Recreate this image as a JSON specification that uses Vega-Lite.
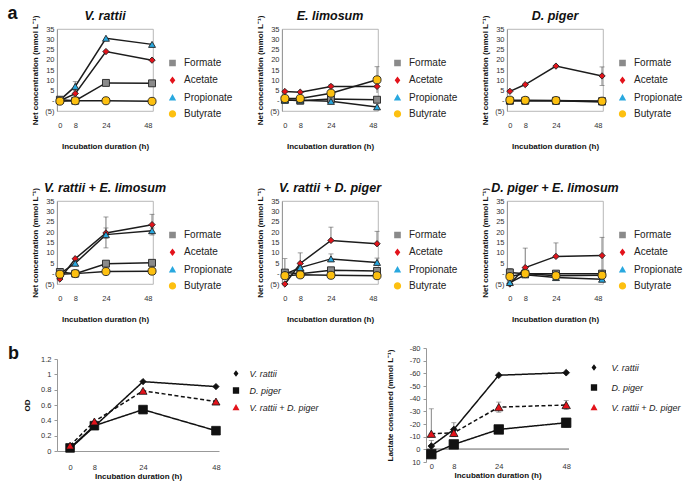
{
"$schema": "https://vega.github.io/schema/vega-lite/v6.json",
"padding": {"left": 7, "top": 5, "right": 0, "bottom": 0},
"config": {
  "font": "Liberation Sans",
  "view": {"stroke": "#a6a6a6", "strokeWidth": 0.8},
  "axis": {"labelFontSize": 7.5, "labelColor": "#333", "titleFontSize": 8, "titleFontWeight": "bold", "titleColor": "#111", "grid": false, "domainColor": "#999", "tickColor": "#999"},
  "title": {"fontSize": 12.5, "fontStyle": "italic", "fontWeight": "bold", "color": "#111", "offset": -7},
  "legend": {"padding": 0, "labelColor": "#222"}
},
"datasets": {
  "a": [
    {"p":"VR","c":"Formate","t":0,"v":0.5},{"p":"VR","c":"Formate","t":8,"v":0},{"p":"VR","c":"Formate","t":24,"v":8.7},{"p":"VR","c":"Formate","t":48,"v":8.5},
    {"p":"VR","c":"Acetate","t":0,"v":0},{"p":"VR","c":"Acetate","t":8,"v":3.5,"lo":3.5,"hi":5},{"p":"VR","c":"Acetate","t":24,"v":24},{"p":"VR","c":"Acetate","t":48,"v":19.8},
    {"p":"VR","c":"Propionate","t":0,"v":0.3},{"p":"VR","c":"Propionate","t":8,"v":7,"lo":5,"hi":9.3},{"p":"VR","c":"Propionate","t":24,"v":30.5},{"p":"VR","c":"Propionate","t":48,"v":27.5},
    {"p":"VR","c":"Butyrate","t":0,"v":-0.2},{"p":"VR","c":"Butyrate","t":8,"v":0},{"p":"VR","c":"Butyrate","t":24,"v":0},{"p":"VR","c":"Butyrate","t":48,"v":-0.3},

    {"p":"EL","c":"Formate","t":0,"v":0.5},{"p":"EL","c":"Formate","t":8,"v":0},{"p":"EL","c":"Formate","t":24,"v":0.8},{"p":"EL","c":"Formate","t":48,"v":0.5},
    {"p":"EL","c":"Acetate","t":0,"v":4.5},{"p":"EL","c":"Acetate","t":8,"v":4.2},{"p":"EL","c":"Acetate","t":24,"v":7,"lo":6,"hi":8},{"p":"EL","c":"Acetate","t":48,"v":7},
    {"p":"EL","c":"Propionate","t":0,"v":0.3},{"p":"EL","c":"Propionate","t":8,"v":0.3},{"p":"EL","c":"Propionate","t":24,"v":-0.3},{"p":"EL","c":"Propionate","t":48,"v":-3},
    {"p":"EL","c":"Butyrate","t":0,"v":1.1},{"p":"EL","c":"Butyrate","t":8,"v":1.1},{"p":"EL","c":"Butyrate","t":24,"v":3.7},{"p":"EL","c":"Butyrate","t":48,"v":10.2,"lo":3.8,"hi":16.6},

    {"p":"DP","c":"Formate","t":0,"v":0},{"p":"DP","c":"Formate","t":8,"v":0},{"p":"DP","c":"Formate","t":24,"v":0},{"p":"DP","c":"Formate","t":48,"v":-0.2},
    {"p":"DP","c":"Acetate","t":0,"v":4.6},{"p":"DP","c":"Acetate","t":8,"v":7.9},{"p":"DP","c":"Acetate","t":24,"v":16.9},{"p":"DP","c":"Acetate","t":48,"v":12.1,"lo":7.5,"hi":16.5},
    {"p":"DP","c":"Propionate","t":0,"v":0},{"p":"DP","c":"Propionate","t":8,"v":0},{"p":"DP","c":"Propionate","t":24,"v":0},{"p":"DP","c":"Propionate","t":48,"v":-0.6},
    {"p":"DP","c":"Butyrate","t":0,"v":0.3},{"p":"DP","c":"Butyrate","t":8,"v":0.2},{"p":"DP","c":"Butyrate","t":24,"v":0.1},{"p":"DP","c":"Butyrate","t":48,"v":-0.2},

    {"p":"VREL","c":"Formate","t":0,"v":0.8},{"p":"VREL","c":"Formate","t":8,"v":0},{"p":"VREL","c":"Formate","t":24,"v":4.8},{"p":"VREL","c":"Formate","t":48,"v":5.2},
    {"p":"VREL","c":"Acetate","t":0,"v":-2.6},{"p":"VREL","c":"Acetate","t":8,"v":7.2},{"p":"VREL","c":"Acetate","t":24,"v":19.6,"lo":17,"hi":22},{"p":"VREL","c":"Acetate","t":48,"v":23.6,"lo":18.6,"hi":28.6},
    {"p":"VREL","c":"Propionate","t":0,"v":0},{"p":"VREL","c":"Propionate","t":8,"v":5},{"p":"VREL","c":"Propionate","t":24,"v":18.8,"lo":12.4,"hi":27.3},{"p":"VREL","c":"Propionate","t":48,"v":20.7,"lo":19.5,"hi":22},
    {"p":"VREL","c":"Butyrate","t":0,"v":-0.3},{"p":"VREL","c":"Butyrate","t":8,"v":0},{"p":"VREL","c":"Butyrate","t":24,"v":1},{"p":"VREL","c":"Butyrate","t":48,"v":1.2},

    {"p":"VRDP","c":"Formate","t":0,"v":0.5,"lo":0.5,"hi":7.2},{"p":"VRDP","c":"Formate","t":8,"v":0},{"p":"VRDP","c":"Formate","t":24,"v":1.6},{"p":"VRDP","c":"Formate","t":48,"v":1.3},
    {"p":"VRDP","c":"Acetate","t":0,"v":-5},{"p":"VRDP","c":"Acetate","t":8,"v":4.9,"lo":4.9,"hi":10},{"p":"VRDP","c":"Acetate","t":24,"v":16,"lo":16,"hi":22.4},{"p":"VRDP","c":"Acetate","t":48,"v":14.4,"lo":14.4,"hi":20.4},
    {"p":"VRDP","c":"Propionate","t":0,"v":-0.3},{"p":"VRDP","c":"Propionate","t":8,"v":2.9},{"p":"VRDP","c":"Propionate","t":24,"v":7.1,"lo":7.1,"hi":9.5},{"p":"VRDP","c":"Propionate","t":48,"v":5.4,"lo":5.4,"hi":7.5},
    {"p":"VRDP","c":"Butyrate","t":0,"v":-1},{"p":"VRDP","c":"Butyrate","t":8,"v":-0.6},{"p":"VRDP","c":"Butyrate","t":24,"v":-0.8},{"p":"VRDP","c":"Butyrate","t":48,"v":-1},

    {"p":"DPEL","c":"Formate","t":0,"v":0.6,"lo":0.6,"hi":2.5},{"p":"DPEL","c":"Formate","t":8,"v":0},{"p":"DPEL","c":"Formate","t":24,"v":0},{"p":"DPEL","c":"Formate","t":48,"v":0},
    {"p":"DPEL","c":"Acetate","t":0,"v":-5},{"p":"DPEL","c":"Acetate","t":8,"v":2.9,"lo":2.9,"hi":12.3},{"p":"DPEL","c":"Acetate","t":24,"v":8.3,"lo":8.3,"hi":14.8},{"p":"DPEL","c":"Acetate","t":48,"v":8.7,"lo":0,"hi":17.5},
    {"p":"DPEL","c":"Propionate","t":0,"v":-4.3},{"p":"DPEL","c":"Propionate","t":8,"v":-0.6},{"p":"DPEL","c":"Propionate","t":24,"v":-1.9},{"p":"DPEL","c":"Propionate","t":48,"v":-2.7},
    {"p":"DPEL","c":"Butyrate","t":0,"v":-1.4},{"p":"DPEL","c":"Butyrate","t":8,"v":0},{"p":"DPEL","c":"Butyrate","t":24,"v":-1},{"p":"DPEL","c":"Butyrate","t":48,"v":-0.8}
  ],
  "b": [
    {"s":"V. rattii","t":0,"od":0.03,"lac":-2.6,"llo":-7,"lhi":2},
    {"s":"V. rattii","t":8,"od":0.32,"lac":-15.7,"llo":-21,"lhi":-10.4},
    {"s":"V. rattii","t":24,"od":0.905,"lac":-58.5},
    {"s":"V. rattii","t":48,"od":0.84,"lac":-60.5},
    {"s":"D. piger","t":0,"od":0.04,"lac":3.8},
    {"s":"D. piger","t":8,"od":0.33,"lac":-3.9,"llo":-7,"lhi":-0.8},
    {"s":"D. piger","t":24,"od":0.54,"lac":-15.7},
    {"s":"D. piger","t":48,"od":0.265,"lac":-21,"llo":-24.5,"lhi":-17.5},
    {"s":"V. rattii + D. piger","t":0,"od":0.07,"lac":-12.3,"llo":-32,"lhi":-12.3},
    {"s":"V. rattii + D. piger","t":8,"od":0.385,"lac":-13,"llo":-16,"lhi":-10},
    {"s":"V. rattii + D. piger","t":24,"od":0.785,"lac":-33.3,"llo":-37.3,"lhi":-29.3},
    {"s":"V. rattii + D. piger","t":48,"od":0.645,"lac":-35,"llo":-38.5,"lhi":-31.5}
  ]
},
"vconcat": [
  {"vconcat": [
    {"data": {"name": "a"},
     "title": {"text": "a", "anchor": "start", "fontSize": 18, "fontStyle": "normal", "fontWeight": "bold", "offset": -14, "dx": -24},
     "spacing": 23,
     "resolve": {"scale": {"fill": "independent", "shape": "independent"}, "legend": {"fill": "independent", "shape": "independent"}},
     "hconcat": [
      {"title": "V. rattii", "width": 96, "height": 82,
       "transform": [{"filter": "datum.p == 'VR'"}],
       "resolve": {"scale": {"fill": "independent", "shape": "independent"}},
       "encoding": {
         "x": {"field": "t", "type": "quantitative", "scale": {"domain": [-1.5, 48.5], "nice": false, "zero": false}, "axis": {"values": [0, 8, 24, 48], "ticks": false, "domain": false, "labelPadding": 10, "title": "Incubation duration (h)", "titlePadding": 14}},
         "y": {"field": "v", "type": "quantitative", "scale": {"domain": [-5, 35], "nice": false, "zero": false}, "axis": {"values": [-5,0,5,10,15,20,25,30,35], "ticks": false, "labelPadding": 3, "labelExpr": "datum.value == 0 ? '-' : datum.value < 0 ? '(' + abs(datum.value) + ')' : '' + datum.value", "title": "Net concentration (mmol L⁻¹)", "titlePadding": 5}}
       },
       "layer": [
         {"transform": [{"filter": "isValid(datum.hi)"}], "mark": {"type": "rule", "color": "#555", "strokeWidth": 0.8}, "encoding": {"y": {"field": "lo", "type": "quantitative", "title": "Net concentration (mmol L⁻¹)"}, "y2": {"field": "hi"}}},
         {"transform": [{"filter": "isValid(datum.hi)"}], "mark": {"type": "tick", "orient": "horizontal", "color": "#555", "size": 5, "thickness": 0.8}, "encoding": {"y": {"field": "hi", "type": "quantitative", "title": "Net concentration (mmol L⁻¹)"}}},
         {"mark": {"type": "line", "color": "#1c1c1c", "strokeWidth": 1.5}, "encoding": {"detail": {"field": "c"}}},
         {"mark": {"type": "point", "filled": true, "opacity": 0, "strokeWidth": 1.5},
          "encoding": {
            "stroke": {"value": "#222"},
            "fill": {"field": "c", "type": "nominal", "scale": {"domain": ["Formate","Acetate","Propionate","Butyrate"], "range": ["#8a8a8a","#e3131b","#29a8df","#fdc010"]}, "legend": {"orient": "none", "legendX": 110.5, "legendY": 29, "title": null, "labelFontSize": 10, "labelOffset": 6.5, "rowPadding": 3.3, "symbolSize": 44, "symbolOpacity": 1, "symbolStrokeColor": "#222", "symbolStrokeWidth": 1.5, "labelLimit": 120}},
            "shape": {"field": "c", "type": "nominal", "scale": {"domain": ["Formate","Acetate","Propionate","Butyrate"], "range": ["M-2.6,0H-1M1,0H2.6M-1,-1H1V1H-1Z", "M-2.6,0H-0.85M0.85,0H2.6M0,-1.15L0.85,0L0,1.15L-0.85,0Z", "M-2.6,0H-0.6M0.6,0H2.6M0,-1.1L1.1,0.9L-1.1,0.9Z", "M-2.6,0H-1.1M1.1,0H2.6M1.1,0C1.1,0.607,0.607,1.1,0,1.1C-0.607,1.1,-1.1,0.607,-1.1,0C-1.1,-0.607,-0.607,-1.1,0,-1.1C0.607,-1.1,1.1,-0.607,1.1,0Z"]}, "legend": {"orient": "none", "legendX": 110.5, "legendY": 29, "title": null, "labelFontSize": 10, "labelOffset": 6.5, "rowPadding": 3.3, "symbolSize": 44, "symbolOpacity": 1, "symbolStrokeColor": "#222", "symbolStrokeWidth": 1.5, "labelLimit": 120}}
          }},
         {"mark": {"type": "point", "filled": true, "opacity": 1, "stroke": "#222", "strokeWidth": 0.9},
          "encoding": {
            "fill": {"field": "c", "type": "nominal", "scale": {"domain": ["Butyrate","Formate","Acetate","Propionate"], "range": ["#fdc010","#8a8a8a","#e3131b","#29a8df"]}, "legend": null},
            "shape": {"field": "c", "type": "nominal", "scale": {"domain": ["Butyrate","Formate","Acetate","Propionate"], "range": ["circle","square","diamond","triangle-up"]}, "legend": null},
            "size": {"condition": [{"test": "datum.c == 'Butyrate'", "value": 65}, {"test": "datum.c == 'Acetate'", "value": 40}], "value": 48}
          }}
       ]},
      {"title": "E. limosum", "width": 96, "height": 82,
       "transform": [{"filter": "datum.p == 'EL'"}],
       "resolve": {"scale": {"fill": "independent", "shape": "independent"}},
       "encoding": {
         "x": {"field": "t", "type": "quantitative", "scale": {"domain": [-1.5, 48.5], "nice": false, "zero": false}, "axis": {"values": [0, 8, 24, 48], "ticks": false, "domain": false, "labelPadding": 10, "title": "Incubation duration (h)", "titlePadding": 14}},
         "y": {"field": "v", "type": "quantitative", "scale": {"domain": [-5, 35], "nice": false, "zero": false}, "axis": {"values": [-5,0,5,10,15,20,25,30,35], "ticks": false, "labelPadding": 3, "labelExpr": "datum.value == 0 ? '-' : datum.value < 0 ? '(' + abs(datum.value) + ')' : '' + datum.value", "title": "Net concentration (mmol L⁻¹)", "titlePadding": 5}}
       },
       "layer": [
         {"transform": [{"filter": "isValid(datum.hi)"}], "mark": {"type": "rule", "color": "#555", "strokeWidth": 0.8}, "encoding": {"y": {"field": "lo", "type": "quantitative", "title": "Net concentration (mmol L⁻¹)"}, "y2": {"field": "hi"}}},
         {"transform": [{"filter": "isValid(datum.hi)"}], "mark": {"type": "tick", "orient": "horizontal", "color": "#555", "size": 5, "thickness": 0.8}, "encoding": {"y": {"field": "hi", "type": "quantitative", "title": "Net concentration (mmol L⁻¹)"}}},
         {"mark": {"type": "line", "color": "#1c1c1c", "strokeWidth": 1.5}, "encoding": {"detail": {"field": "c"}}},
         {"mark": {"type": "point", "filled": true, "opacity": 0, "strokeWidth": 1.5},
          "encoding": {
            "stroke": {"value": "#222"},
            "fill": {"field": "c", "type": "nominal", "scale": {"domain": ["Formate","Acetate","Propionate","Butyrate"], "range": ["#8a8a8a","#e3131b","#29a8df","#fdc010"]}, "legend": {"orient": "none", "legendX": 110.5, "legendY": 29, "title": null, "labelFontSize": 10, "labelOffset": 6.5, "rowPadding": 3.3, "symbolSize": 44, "symbolOpacity": 1, "symbolStrokeColor": "#222", "symbolStrokeWidth": 1.5, "labelLimit": 120}},
            "shape": {"field": "c", "type": "nominal", "scale": {"domain": ["Formate","Acetate","Propionate","Butyrate"], "range": ["M-2.6,0H-1M1,0H2.6M-1,-1H1V1H-1Z", "M-2.6,0H-0.85M0.85,0H2.6M0,-1.15L0.85,0L0,1.15L-0.85,0Z", "M-2.6,0H-0.6M0.6,0H2.6M0,-1.1L1.1,0.9L-1.1,0.9Z", "M-2.6,0H-1.1M1.1,0H2.6M1.1,0C1.1,0.607,0.607,1.1,0,1.1C-0.607,1.1,-1.1,0.607,-1.1,0C-1.1,-0.607,-0.607,-1.1,0,-1.1C0.607,-1.1,1.1,-0.607,1.1,0Z"]}, "legend": {"orient": "none", "legendX": 110.5, "legendY": 29, "title": null, "labelFontSize": 10, "labelOffset": 6.5, "rowPadding": 3.3, "symbolSize": 44, "symbolOpacity": 1, "symbolStrokeColor": "#222", "symbolStrokeWidth": 1.5, "labelLimit": 120}}
          }},
         {"mark": {"type": "point", "filled": true, "opacity": 1, "stroke": "#222", "strokeWidth": 0.9},
          "encoding": {
            "fill": {"field": "c", "type": "nominal", "scale": {"domain": ["Butyrate","Formate","Acetate","Propionate"], "range": ["#fdc010","#8a8a8a","#e3131b","#29a8df"]}, "legend": null},
            "shape": {"field": "c", "type": "nominal", "scale": {"domain": ["Butyrate","Formate","Acetate","Propionate"], "range": ["circle","square","diamond","triangle-up"]}, "legend": null},
            "size": {"condition": [{"test": "datum.c == 'Butyrate'", "value": 65}, {"test": "datum.c == 'Acetate'", "value": 40}], "value": 48}
          }}
       ]},
      {"title": "D. piger", "width": 96, "height": 82,
       "transform": [{"filter": "datum.p == 'DP'"}],
       "resolve": {"scale": {"fill": "independent", "shape": "independent"}},
       "encoding": {
         "x": {"field": "t", "type": "quantitative", "scale": {"domain": [-1.5, 48.5], "nice": false, "zero": false}, "axis": {"values": [0, 8, 24, 48], "ticks": false, "domain": false, "labelPadding": 10, "title": "Incubation duration (h)", "titlePadding": 14}},
         "y": {"field": "v", "type": "quantitative", "scale": {"domain": [-5, 35], "nice": false, "zero": false}, "axis": {"values": [-5,0,5,10,15,20,25,30,35], "ticks": false, "labelPadding": 3, "labelExpr": "datum.value == 0 ? '-' : datum.value < 0 ? '(' + abs(datum.value) + ')' : '' + datum.value", "title": "Net concentration (mmol L⁻¹)", "titlePadding": 5}}
       },
       "layer": [
         {"transform": [{"filter": "isValid(datum.hi)"}], "mark": {"type": "rule", "color": "#555", "strokeWidth": 0.8}, "encoding": {"y": {"field": "lo", "type": "quantitative", "title": "Net concentration (mmol L⁻¹)"}, "y2": {"field": "hi"}}},
         {"transform": [{"filter": "isValid(datum.hi)"}], "mark": {"type": "tick", "orient": "horizontal", "color": "#555", "size": 5, "thickness": 0.8}, "encoding": {"y": {"field": "hi", "type": "quantitative", "title": "Net concentration (mmol L⁻¹)"}}},
         {"transform": [{"filter": "isValid(datum.hi)"}], "mark": {"type": "tick", "orient": "horizontal", "color": "#555", "size": 5, "thickness": 0.8}, "encoding": {"y": {"field": "lo", "type": "quantitative", "title": "Net concentration (mmol L⁻¹)"}}},
         {"mark": {"type": "line", "color": "#1c1c1c", "strokeWidth": 1.5}, "encoding": {"detail": {"field": "c"}}},
         {"mark": {"type": "point", "filled": true, "opacity": 0, "strokeWidth": 1.5},
          "encoding": {
            "stroke": {"value": "#222"},
            "fill": {"field": "c", "type": "nominal", "scale": {"domain": ["Formate","Acetate","Propionate","Butyrate"], "range": ["#8a8a8a","#e3131b","#29a8df","#fdc010"]}, "legend": {"orient": "none", "legendX": 110.5, "legendY": 29, "title": null, "labelFontSize": 10, "labelOffset": 6.5, "rowPadding": 3.3, "symbolSize": 44, "symbolOpacity": 1, "symbolStrokeColor": "#222", "symbolStrokeWidth": 1.5, "labelLimit": 120}},
            "shape": {"field": "c", "type": "nominal", "scale": {"domain": ["Formate","Acetate","Propionate","Butyrate"], "range": ["M-2.6,0H-1M1,0H2.6M-1,-1H1V1H-1Z", "M-2.6,0H-0.85M0.85,0H2.6M0,-1.15L0.85,0L0,1.15L-0.85,0Z", "M-2.6,0H-0.6M0.6,0H2.6M0,-1.1L1.1,0.9L-1.1,0.9Z", "M-2.6,0H-1.1M1.1,0H2.6M1.1,0C1.1,0.607,0.607,1.1,0,1.1C-0.607,1.1,-1.1,0.607,-1.1,0C-1.1,-0.607,-0.607,-1.1,0,-1.1C0.607,-1.1,1.1,-0.607,1.1,0Z"]}, "legend": {"orient": "none", "legendX": 110.5, "legendY": 29, "title": null, "labelFontSize": 10, "labelOffset": 6.5, "rowPadding": 3.3, "symbolSize": 44, "symbolOpacity": 1, "symbolStrokeColor": "#222", "symbolStrokeWidth": 1.5, "labelLimit": 120}}
          }},
         {"mark": {"type": "point", "filled": true, "opacity": 1, "stroke": "#222", "strokeWidth": 0.9},
          "encoding": {
            "fill": {"field": "c", "type": "nominal", "scale": {"domain": ["Butyrate","Formate","Acetate","Propionate"], "range": ["#fdc010","#8a8a8a","#e3131b","#29a8df"]}, "legend": null},
            "shape": {"field": "c", "type": "nominal", "scale": {"domain": ["Butyrate","Formate","Acetate","Propionate"], "range": ["circle","square","diamond","triangle-up"]}, "legend": null},
            "size": {"condition": [{"test": "datum.c == 'Butyrate'", "value": 65}, {"test": "datum.c == 'Acetate'", "value": 40}], "value": 48}
          }}
       ]}
     ]},
    {"data": {"name": "a"},
     "spacing": 23,
     "resolve": {"scale": {"fill": "independent", "shape": "independent"}, "legend": {"fill": "independent", "shape": "independent"}},
     "hconcat": [
      {"title": "V. rattii + E. limosum", "width": 96, "height": 83,
       "transform": [{"filter": "datum.p == 'VREL'"}],
       "resolve": {"scale": {"fill": "independent", "shape": "independent"}},
       "encoding": {
         "x": {"field": "t", "type": "quantitative", "scale": {"domain": [-1.5, 48.5], "nice": false, "zero": false}, "axis": {"values": [0, 8, 24, 48], "ticks": false, "domain": false, "labelPadding": 10, "title": "Incubation duration (h)", "titlePadding": 14}},
         "y": {"field": "v", "type": "quantitative", "scale": {"domain": [-5, 35], "nice": false, "zero": false}, "axis": {"values": [-5,0,5,10,15,20,25,30,35], "ticks": false, "labelPadding": 3, "labelExpr": "datum.value == 0 ? '-' : datum.value < 0 ? '(' + abs(datum.value) + ')' : '' + datum.value", "title": "Net concentration (mmol L⁻¹)", "titlePadding": 5}}
       },
       "layer": [
         {"transform": [{"filter": "isValid(datum.hi)"}], "mark": {"type": "rule", "color": "#555", "strokeWidth": 0.8}, "encoding": {"y": {"field": "lo", "type": "quantitative", "title": "Net concentration (mmol L⁻¹)"}, "y2": {"field": "hi"}}},
         {"transform": [{"filter": "isValid(datum.hi)"}], "mark": {"type": "tick", "orient": "horizontal", "color": "#555", "size": 5, "thickness": 0.8}, "encoding": {"y": {"field": "hi", "type": "quantitative", "title": "Net concentration (mmol L⁻¹)"}}},
         {"transform": [{"filter": "isValid(datum.hi)"}], "mark": {"type": "tick", "orient": "horizontal", "color": "#555", "size": 5, "thickness": 0.8}, "encoding": {"y": {"field": "lo", "type": "quantitative", "title": "Net concentration (mmol L⁻¹)"}}},
         {"mark": {"type": "line", "color": "#1c1c1c", "strokeWidth": 1.5}, "encoding": {"detail": {"field": "c"}}},
         {"mark": {"type": "point", "filled": true, "opacity": 0, "strokeWidth": 1.5},
          "encoding": {
            "stroke": {"value": "#222"},
            "fill": {"field": "c", "type": "nominal", "scale": {"domain": ["Formate","Acetate","Propionate","Butyrate"], "range": ["#8a8a8a","#e3131b","#29a8df","#fdc010"]}, "legend": {"orient": "none", "legendX": 110.5, "legendY": 29, "title": null, "labelFontSize": 10, "labelOffset": 6.5, "rowPadding": 3.3, "symbolSize": 44, "symbolOpacity": 1, "symbolStrokeColor": "#222", "symbolStrokeWidth": 1.5, "labelLimit": 120}},
            "shape": {"field": "c", "type": "nominal", "scale": {"domain": ["Formate","Acetate","Propionate","Butyrate"], "range": ["M-2.6,0H-1M1,0H2.6M-1,-1H1V1H-1Z", "M-2.6,0H-0.85M0.85,0H2.6M0,-1.15L0.85,0L0,1.15L-0.85,0Z", "M-2.6,0H-0.6M0.6,0H2.6M0,-1.1L1.1,0.9L-1.1,0.9Z", "M-2.6,0H-1.1M1.1,0H2.6M1.1,0C1.1,0.607,0.607,1.1,0,1.1C-0.607,1.1,-1.1,0.607,-1.1,0C-1.1,-0.607,-0.607,-1.1,0,-1.1C0.607,-1.1,1.1,-0.607,1.1,0Z"]}, "legend": {"orient": "none", "legendX": 110.5, "legendY": 29, "title": null, "labelFontSize": 10, "labelOffset": 6.5, "rowPadding": 3.3, "symbolSize": 44, "symbolOpacity": 1, "symbolStrokeColor": "#222", "symbolStrokeWidth": 1.5, "labelLimit": 120}}
          }},
         {"mark": {"type": "point", "filled": true, "opacity": 1, "stroke": "#222", "strokeWidth": 0.9},
          "encoding": {
            "fill": {"field": "c", "type": "nominal", "scale": {"domain": ["Butyrate","Formate","Acetate","Propionate"], "range": ["#fdc010","#8a8a8a","#e3131b","#29a8df"]}, "legend": null},
            "shape": {"field": "c", "type": "nominal", "scale": {"domain": ["Butyrate","Formate","Acetate","Propionate"], "range": ["circle","square","diamond","triangle-up"]}, "legend": null},
            "size": {"condition": [{"test": "datum.c == 'Butyrate'", "value": 65}, {"test": "datum.c == 'Acetate'", "value": 40}], "value": 48}
          }}
       ]},
      {"title": "V. rattii + D. piger", "width": 96, "height": 83,
       "transform": [{"filter": "datum.p == 'VRDP'"}],
       "resolve": {"scale": {"fill": "independent", "shape": "independent"}},
       "encoding": {
         "x": {"field": "t", "type": "quantitative", "scale": {"domain": [-1.5, 48.5], "nice": false, "zero": false}, "axis": {"values": [0, 8, 24, 48], "ticks": false, "domain": false, "labelPadding": 10, "title": "Incubation duration (h)", "titlePadding": 14}},
         "y": {"field": "v", "type": "quantitative", "scale": {"domain": [-5, 35], "nice": false, "zero": false}, "axis": {"values": [-5,0,5,10,15,20,25,30,35], "ticks": false, "labelPadding": 3, "labelExpr": "datum.value == 0 ? '-' : datum.value < 0 ? '(' + abs(datum.value) + ')' : '' + datum.value", "title": "Net concentration (mmol L⁻¹)", "titlePadding": 5}}
       },
       "layer": [
         {"transform": [{"filter": "isValid(datum.hi)"}], "mark": {"type": "rule", "color": "#555", "strokeWidth": 0.8}, "encoding": {"y": {"field": "lo", "type": "quantitative", "title": "Net concentration (mmol L⁻¹)"}, "y2": {"field": "hi"}}},
         {"transform": [{"filter": "isValid(datum.hi)"}], "mark": {"type": "tick", "orient": "horizontal", "color": "#555", "size": 5, "thickness": 0.8}, "encoding": {"y": {"field": "hi", "type": "quantitative", "title": "Net concentration (mmol L⁻¹)"}}},
         {"mark": {"type": "line", "color": "#1c1c1c", "strokeWidth": 1.5}, "encoding": {"detail": {"field": "c"}}},
         {"mark": {"type": "point", "filled": true, "opacity": 0, "strokeWidth": 1.5},
          "encoding": {
            "stroke": {"value": "#222"},
            "fill": {"field": "c", "type": "nominal", "scale": {"domain": ["Formate","Acetate","Propionate","Butyrate"], "range": ["#8a8a8a","#e3131b","#29a8df","#fdc010"]}, "legend": {"orient": "none", "legendX": 110.5, "legendY": 29, "title": null, "labelFontSize": 10, "labelOffset": 6.5, "rowPadding": 3.3, "symbolSize": 44, "symbolOpacity": 1, "symbolStrokeColor": "#222", "symbolStrokeWidth": 1.5, "labelLimit": 120}},
            "shape": {"field": "c", "type": "nominal", "scale": {"domain": ["Formate","Acetate","Propionate","Butyrate"], "range": ["M-2.6,0H-1M1,0H2.6M-1,-1H1V1H-1Z", "M-2.6,0H-0.85M0.85,0H2.6M0,-1.15L0.85,0L0,1.15L-0.85,0Z", "M-2.6,0H-0.6M0.6,0H2.6M0,-1.1L1.1,0.9L-1.1,0.9Z", "M-2.6,0H-1.1M1.1,0H2.6M1.1,0C1.1,0.607,0.607,1.1,0,1.1C-0.607,1.1,-1.1,0.607,-1.1,0C-1.1,-0.607,-0.607,-1.1,0,-1.1C0.607,-1.1,1.1,-0.607,1.1,0Z"]}, "legend": {"orient": "none", "legendX": 110.5, "legendY": 29, "title": null, "labelFontSize": 10, "labelOffset": 6.5, "rowPadding": 3.3, "symbolSize": 44, "symbolOpacity": 1, "symbolStrokeColor": "#222", "symbolStrokeWidth": 1.5, "labelLimit": 120}}
          }},
         {"mark": {"type": "point", "filled": true, "opacity": 1, "stroke": "#222", "strokeWidth": 0.9},
          "encoding": {
            "fill": {"field": "c", "type": "nominal", "scale": {"domain": ["Butyrate","Formate","Acetate","Propionate"], "range": ["#fdc010","#8a8a8a","#e3131b","#29a8df"]}, "legend": null},
            "shape": {"field": "c", "type": "nominal", "scale": {"domain": ["Butyrate","Formate","Acetate","Propionate"], "range": ["circle","square","diamond","triangle-up"]}, "legend": null},
            "size": {"condition": [{"test": "datum.c == 'Butyrate'", "value": 65}, {"test": "datum.c == 'Acetate'", "value": 40}], "value": 48}
          }}
       ]},
      {"title": "D. piger + E. limosum", "width": 96, "height": 83,
       "transform": [{"filter": "datum.p == 'DPEL'"}],
       "resolve": {"scale": {"fill": "independent", "shape": "independent"}},
       "encoding": {
         "x": {"field": "t", "type": "quantitative", "scale": {"domain": [-1.5, 48.5], "nice": false, "zero": false}, "axis": {"values": [0, 8, 24, 48], "ticks": false, "domain": false, "labelPadding": 10, "title": "Incubation duration (h)", "titlePadding": 14}},
         "y": {"field": "v", "type": "quantitative", "scale": {"domain": [-5, 35], "nice": false, "zero": false}, "axis": {"values": [-5,0,5,10,15,20,25,30,35], "ticks": false, "labelPadding": 3, "labelExpr": "datum.value == 0 ? '-' : datum.value < 0 ? '(' + abs(datum.value) + ')' : '' + datum.value", "title": "Net concentration (mmol L⁻¹)", "titlePadding": 5}}
       },
       "layer": [
         {"transform": [{"filter": "isValid(datum.hi)"}], "mark": {"type": "rule", "color": "#555", "strokeWidth": 0.8}, "encoding": {"y": {"field": "lo", "type": "quantitative", "title": "Net concentration (mmol L⁻¹)"}, "y2": {"field": "hi"}}},
         {"transform": [{"filter": "isValid(datum.hi)"}], "mark": {"type": "tick", "orient": "horizontal", "color": "#555", "size": 5, "thickness": 0.8}, "encoding": {"y": {"field": "hi", "type": "quantitative", "title": "Net concentration (mmol L⁻¹)"}}},
         {"mark": {"type": "line", "color": "#1c1c1c", "strokeWidth": 1.5}, "encoding": {"detail": {"field": "c"}}},
         {"mark": {"type": "point", "filled": true, "opacity": 0, "strokeWidth": 1.5},
          "encoding": {
            "stroke": {"value": "#222"},
            "fill": {"field": "c", "type": "nominal", "scale": {"domain": ["Formate","Acetate","Propionate","Butyrate"], "range": ["#8a8a8a","#e3131b","#29a8df","#fdc010"]}, "legend": {"orient": "none", "legendX": 110.5, "legendY": 29, "title": null, "labelFontSize": 10, "labelOffset": 6.5, "rowPadding": 3.3, "symbolSize": 44, "symbolOpacity": 1, "symbolStrokeColor": "#222", "symbolStrokeWidth": 1.5, "labelLimit": 120}},
            "shape": {"field": "c", "type": "nominal", "scale": {"domain": ["Formate","Acetate","Propionate","Butyrate"], "range": ["M-2.6,0H-1M1,0H2.6M-1,-1H1V1H-1Z", "M-2.6,0H-0.85M0.85,0H2.6M0,-1.15L0.85,0L0,1.15L-0.85,0Z", "M-2.6,0H-0.6M0.6,0H2.6M0,-1.1L1.1,0.9L-1.1,0.9Z", "M-2.6,0H-1.1M1.1,0H2.6M1.1,0C1.1,0.607,0.607,1.1,0,1.1C-0.607,1.1,-1.1,0.607,-1.1,0C-1.1,-0.607,-0.607,-1.1,0,-1.1C0.607,-1.1,1.1,-0.607,1.1,0Z"]}, "legend": {"orient": "none", "legendX": 110.5, "legendY": 29, "title": null, "labelFontSize": 10, "labelOffset": 6.5, "rowPadding": 3.3, "symbolSize": 44, "symbolOpacity": 1, "symbolStrokeColor": "#222", "symbolStrokeWidth": 1.5, "labelLimit": 120}}
          }},
         {"mark": {"type": "point", "filled": true, "opacity": 1, "stroke": "#222", "strokeWidth": 0.9},
          "encoding": {
            "fill": {"field": "c", "type": "nominal", "scale": {"domain": ["Butyrate","Formate","Acetate","Propionate"], "range": ["#fdc010","#8a8a8a","#e3131b","#29a8df"]}, "legend": null},
            "shape": {"field": "c", "type": "nominal", "scale": {"domain": ["Butyrate","Formate","Acetate","Propionate"], "range": ["circle","square","diamond","triangle-up"]}, "legend": null},
            "size": {"condition": [{"test": "datum.c == 'Butyrate'", "value": 65}, {"test": "datum.c == 'Acetate'", "value": 40}], "value": 48}
          }}
       ]}
     ]}
  ], "spacing": 30},
  {"data": {"name": "b"},
   "title": {"text": "b", "anchor": "start", "fontSize": 18, "fontStyle": "normal", "fontWeight": "bold", "offset": -19, "dx": -15.5},
   "spacing": 207,
   "center": true,
   "bounds": "flush",
   "resolve": {"scale": {"fill": "independent", "shape": "independent"}, "legend": {"fill": "independent", "shape": "independent"}},
   "hconcat": [
    {"width": 162, "height": 92, "view": {"stroke": null},
     "resolve": {"scale": {"fill": "independent", "shape": "independent"}},
     "encoding": {
       "x": {"field": "t", "type": "quantitative", "scale": {"domain": [-4.3, 49], "nice": false, "zero": false}, "axis": {"values": [0, 8, 24, 48], "ticks": false, "labelPadding": 12, "title": "Incubation duration (h)", "titlePadding": 2}},
       "y": {"field": "od", "type": "quantitative", "scale": {"domain": [0, 1.2], "nice": false}, "axis": {"values": [0, 0.2, 0.4, 0.6, 0.8, 1, 1.2], "labelExpr": "'' + datum.value", "tickSize": 3, "labelPadding": 3, "title": "OD", "titlePadding": 9}}
     },
     "layer": [
       {"mark": {"type": "line", "color": "#111", "strokeWidth": 1.5}, "encoding": {"detail": {"field": "s"}, "strokeDash": {"condition": {"test": "datum.s == 'V. rattii + D. piger'", "value": [4, 2.5]}, "value": [1, 0]}}},
       {"mark": {"type": "point", "filled": true, "opacity": 0, "strokeWidth": 1.3},
        "encoding": {
          "stroke": {"value": "#111"},
          "fill": {"field": "s", "type": "nominal", "scale": {"domain": ["V. rattii", "D. piger", "V. rattii + D. piger"], "range": ["#111", "#111", "#e3131b"]}, "legend": {"orient": "none", "legendX": 174.5, "legendY": 10, "title": null, "labelFontSize": 9, "labelFontStyle": "italic", "labelOffset": 9, "rowPadding": 4, "symbolSize": 49, "symbolOpacity": 1, "symbolStrokeColor": "#111", "symbolStrokeWidth": 1.3, "labelLimit": 150}},
          "shape": {"field": "s", "type": "nominal", "scale": {"domain": ["V. rattii", "D. piger", "V. rattii + D. piger"], "range": ["M-3.3,0H-0.7M0.7,0H3.3M0,-0.9L0.7,0L0,0.9L-0.7,0Z", "M-3.3,0H-0.9M0.9,0H3.3M-0.9,-0.9H0.9V0.9H-0.9Z", "M-3.3,0H-2.7M-2.3,0H-1.7M-1.3,0H-0.7M0.7,0H1.3M1.7,0H2.3M2.7,0H3.3M0,-1L1,0.75L-1,0.75Z"]}, "legend": {"orient": "none", "legendX": 174.5, "legendY": 10, "title": null, "labelFontSize": 9, "labelFontStyle": "italic", "labelOffset": 9, "rowPadding": 4, "symbolSize": 49, "symbolOpacity": 1, "symbolStrokeColor": "#111", "symbolStrokeWidth": 1.3, "labelLimit": 150}}
        }},
       {"mark": {"type": "point", "filled": true, "opacity": 1, "stroke": "#111", "strokeWidth": 0.8},
        "encoding": {
          "fill": {"field": "s", "type": "nominal", "scale": {"domain": ["D. piger", "V. rattii", "V. rattii + D. piger"], "range": ["#111", "#111", "#e3131b"]}, "legend": null},
          "shape": {"field": "s", "type": "nominal", "scale": {"domain": ["D. piger", "V. rattii", "V. rattii + D. piger"], "range": ["square", "diamond", "triangle-up"]}, "legend": null},
          "size": {"condition": [{"test": "datum.s == 'V. rattii'", "value": 40}, {"test": "datum.s == 'D. piger'", "value": 75}], "value": 65}
        }}
     ]},
    {"width": 143, "height": 114, "view": {"stroke": null},
     "resolve": {"scale": {"fill": "independent", "shape": "independent"}},
     "encoding": {
       "x": {"field": "t", "type": "quantitative", "scale": {"domain": [-1.9, 49], "nice": false, "zero": false}, "axis": {"values": [0, 8, 24, 48], "ticks": false, "domain": false, "labelPadding": 0, "title": "Incubation duration (h)", "titlePadding": 2}},
       "y": {"field": "lac", "type": "quantitative", "scale": {"domain": [-80, 10], "nice": false, "reverse": true, "zero": false}, "axis": {"values": [-80, -70, -60, -50, -40, -30, -20, -10, 0, 10], "labelExpr": "'' + datum.value", "tickSize": 3, "labelPadding": 3, "title": "Lactate consumed (mmol L⁻¹)", "titlePadding": 15}}
     },
     "layer": [
       {"mark": {"type": "rule", "color": "#aaa", "strokeWidth": 0.8},
        "encoding": {"x": {"datum": -1.9, "type": "quantitative"}, "x2": {"datum": 49}, "y": {"datum": 0, "type": "quantitative", "title": "Lactate consumed (mmol L⁻¹)"}}},
       {"transform": [{"filter": "isValid(datum.llo)"}], "mark": {"type": "rule", "color": "#666", "strokeWidth": 0.8},
        "encoding": {"y": {"field": "llo", "type": "quantitative", "title": "Lactate consumed (mmol L⁻¹)"}, "y2": {"field": "lhi"}}},
       {"transform": [{"filter": "isValid(datum.llo)"}], "mark": {"type": "tick", "orient": "horizontal", "color": "#666", "size": 5, "thickness": 0.8},
        "encoding": {"y": {"field": "llo", "type": "quantitative", "title": "Lactate consumed (mmol L⁻¹)"}}},
       {"transform": [{"filter": "isValid(datum.llo)"}], "mark": {"type": "tick", "orient": "horizontal", "color": "#666", "size": 5, "thickness": 0.8},
        "encoding": {"y": {"field": "lhi", "type": "quantitative", "title": "Lactate consumed (mmol L⁻¹)"}}},
       {"mark": {"type": "line", "color": "#111", "strokeWidth": 1.5},
        "encoding": {"detail": {"field": "s"}, "strokeDash": {"condition": {"test": "datum.s == 'V. rattii + D. piger'", "value": [4, 2.5]}, "value": [1, 0]}}},
       {"mark": {"type": "point", "filled": true, "opacity": 0, "strokeWidth": 1.3},
        "encoding": {
          "stroke": {"value": "#111"},
          "fill": {"field": "s", "type": "nominal", "scale": {"domain": ["V. rattii", "D. piger", "V. rattii + D. piger"], "range": ["#111", "#111", "#e3131b"]}, "legend": {"orient": "none", "legendX": 163.5, "legendY": 15, "title": null, "labelFontSize": 9, "labelFontStyle": "italic", "labelOffset": 13, "rowPadding": 7, "symbolSize": 49, "symbolOpacity": 1, "symbolStrokeColor": "#111", "symbolStrokeWidth": 1.3, "labelLimit": 150}},
          "shape": {"field": "s", "type": "nominal", "scale": {"domain": ["V. rattii", "D. piger", "V. rattii + D. piger"], "range": ["M-3.7,0H-0.7M0.7,0H3.7M0,-0.9L0.7,0L0,0.9L-0.7,0Z", "M-3.7,0H-0.9M0.9,0H3.7M-0.9,-0.9H0.9V0.9H-0.9Z", "M-3.7,0H-3.1M-2.7,0H-2.1M-1.7,0H-1.1M1.1,0H1.7M2.1,0H2.7M3.1,0H3.7M0,-1L1,0.75L-1,0.75Z"]}, "legend": {"orient": "none", "legendX": 163.5, "legendY": 15, "title": null, "labelFontSize": 9, "labelFontStyle": "italic", "labelOffset": 13, "rowPadding": 7, "symbolSize": 49, "symbolOpacity": 1, "symbolStrokeColor": "#111", "symbolStrokeWidth": 1.3, "labelLimit": 150}}
        }},
       {"mark": {"type": "point", "filled": true, "opacity": 1, "stroke": "#111", "strokeWidth": 0.8},
        "encoding": {
          "fill": {"field": "s", "type": "nominal", "scale": {"domain": ["D. piger", "V. rattii", "V. rattii + D. piger"], "range": ["#111", "#111", "#e3131b"]}, "legend": null},
          "shape": {"field": "s", "type": "nominal", "scale": {"domain": ["D. piger", "V. rattii", "V. rattii + D. piger"], "range": ["square", "diamond", "triangle-up"]}, "legend": null},
          "size": {"condition": [{"test": "datum.s == 'V. rattii'", "value": 45}, {"test": "datum.s == 'D. piger'", "value": 90}], "value": 70}
        }}
     ]}
   ]}
],
"spacing": 20
}
